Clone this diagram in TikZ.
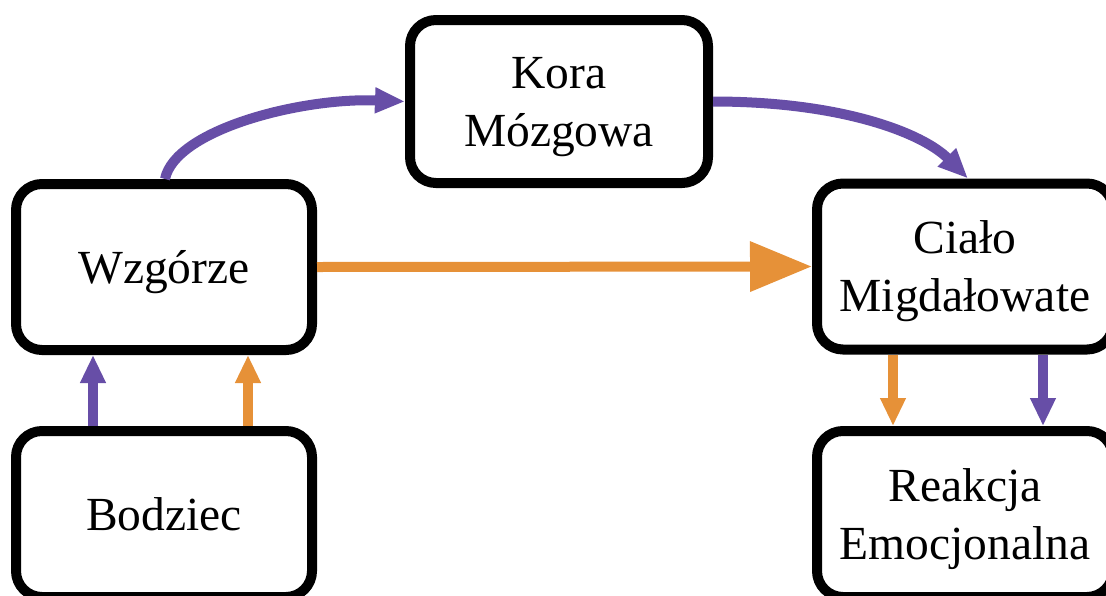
\documentclass[tikz,border=0pt]{standalone}
\usepackage{fontspec}
\setmainfont{Liberation Serif}
\usetikzlibrary{arrows.meta}
\definecolor{purp}{HTML}{674EA7}
\definecolor{orng}{HTML}{E69138}
\begin{document}
\begin{tikzpicture}[x=1pt,y=-1pt,
  box/.style={draw=black, line width=10pt, rounded corners=26pt, fill=white,
    minimum width=296pt, minimum height=166pt, inner sep=0pt, align=center,
    text depth=0pt, font=\fontsize{47.5}{58}\selectfont},
  conn/.style={line width=10pt},
  smalltip/.style={-{Triangle[length=28pt,width=24pt]}},
  bigtip/.style={-{Triangle[length=62pt,width=48pt]}},
  curvetip/.style={-{Triangle[length=30pt,width=24pt]}}]
\useasboundingbox (0,0) rectangle (1106,595);
\node[box] (wz) at (164,267) {Wzgórze};
\node[box, minimum width=298pt, minimum height=163pt] (kora) at (559,101.5) {Kora\\Mózgowa};
\node[box] (cial) at (965,266.5) {Ciało\\Migdałowate};
\node[box] (bod) at (164,514) {Bodziec};
\node[box] (reak) at (965,514) {Reakcja\\Emocjonalna};
% Bodziec -> Wzgórze
\draw[conn, purp, smalltip] ([xshift=-71pt]bod.north) -- ([xshift=-71pt]wz.south);
\draw[conn, orng, smalltip] ([xshift=84pt]bod.north) -- ([xshift=84pt]wz.south);
% Ciało -> Reakcja
\draw[conn, orng, smalltip] ([xshift=-72pt]cial.south) -- ([xshift=-72pt]reak.north);
\draw[conn, purp, smalltip] ([xshift=78pt]cial.south) -- ([xshift=78pt]reak.north);
% Wzgórze -> Ciało
\draw[conn, orng, bigtip] (wz.east) -- (cial.west);
% Wzgórze -> Kora
\draw[conn, purp, curvetip] ([xshift=1pt]wz.north) .. controls +(10,-49) and +(-105,-4) .. (kora.west);
% Kora -> Ciało
\draw[conn, purp, curvetip] (kora.east) .. controls +(130,0) and +(-45,-45) .. ([xshift=3pt]cial.north);
\end{tikzpicture}
\end{document}
